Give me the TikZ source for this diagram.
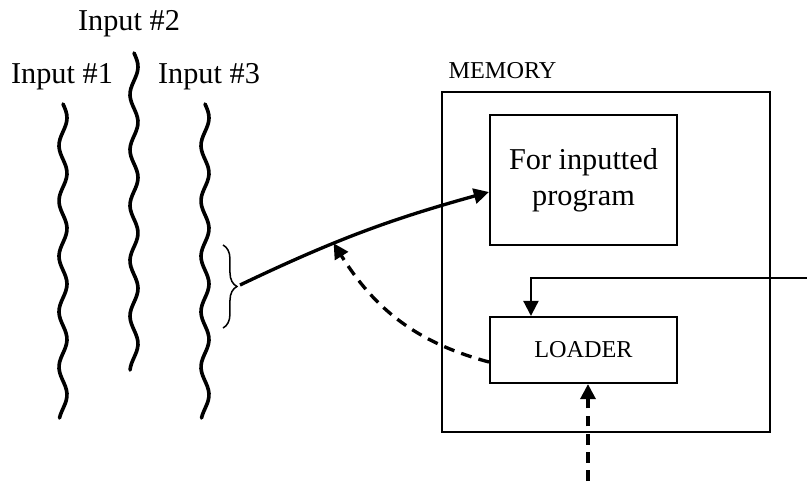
\documentclass[tikz,border=0pt]{standalone}
\usepackage{fontspec}
\setmainfont{Liberation Serif}
\usetikzlibrary{arrows.meta, calc, decorations.pathreplacing}
\tikzset{
  inlabel/.style={font=\normalsize, inner sep=0pt},
  capslabel/.style={font=\footnotesize, inner sep=0pt},
  membox/.style={rectangle, draw, line width=0.7pt,
    minimum width=108pt, minimum height=112pt, inner sep=0pt},
  progbox/.style={rectangle, draw, line width=0.7pt, align=center,
    minimum width=61.7pt, minimum height=42.9pt, inner sep=0pt},
  loadbox/.style={rectangle, draw, line width=0.7pt, font=\footnotesize,
    minimum width=61.7pt, minimum height=21.8pt, inner sep=0pt},
  wave/.style={line width=1.2pt, line cap=round},
  arrow/.style={-{Triangle[length=5pt,width=5pt]}, line width=1.1pt},
  dasharrow/.style={arrow, dash pattern=on 3.6pt off 2.4pt},
  line/.style={line width=0.7pt}
}

\begin{document}
\begin{tikzpicture}[x=0.33pt, y=0.33pt]
  \useasboundingbox (0,0) rectangle (807,-481);

  % Input streams
  \node[inlabel] (in1) at (62,-77) {Input \#1};
  \node[inlabel] (in2) at (129,-24) {Input \#2};
  \node[inlabel] (in3) at (209,-77) {Input \#3};
  \foreach \wx/\wtop/\wbot in {63/104/418, 134/53/370, 205/104/418}
    \draw[wave] plot[domain=\wtop:\wbot, samples=90, smooth]
      ({\wx+4*sin(6.5*(\x-\wtop))}, {-\x});

  % Brace
  \draw[decorate, decoration={brace, amplitude=4.6pt}, line width=0.5pt]
    (223,-245) -- (223,-328);
  \coordinate (tip) at (240,-285);

  % Memory
  \node[membox] (mem) at (606,-262) {};
  \node[capslabel, anchor=west] (memlabel) at (448,-71) {MEMORY};
  \node[progbox] (prog) at (583.5,-180) {For inputted\\program};
  \node[loadbox] (loader) at (583.5,-350) {LOADER};

  % Connectors
  \draw[arrow] (tip) to[bend left=5] coordinate[pos=0.375] (hit)
    ($(prog.west)+(0,-12)$);
  \draw[dasharrow] ($(loader.west)+(0,-12)$) to[out=165, in=-58] (hit);
  \coordinate (feed) at (807,-278);
  \draw[line, -{Triangle[length=5pt,width=5pt]}] (feed) -| ($(loader.north west)+(42,0)$);
  \coordinate (below) at (588,-481);
  \draw[dasharrow] (below) -- (below |- loader.south);
\end{tikzpicture}
\end{document}
